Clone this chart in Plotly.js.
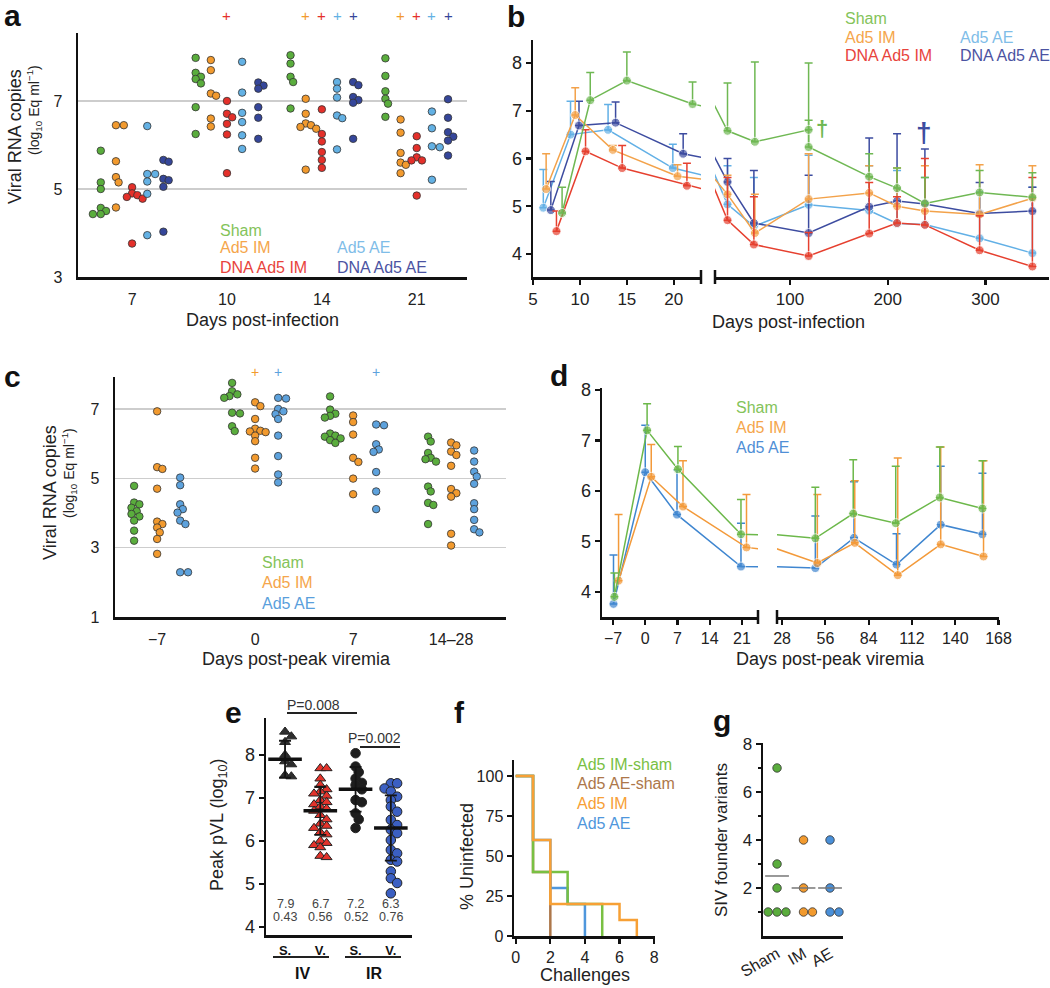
<!DOCTYPE html>
<html><head><meta charset="utf-8">
<script src="https://cdn.plot.ly/plotly-3.0.1.min.js"></script>
<style>html,body{margin:0;padding:0;background:#fff;}#chart{width:1050px;height:988px;}</style>
</head><body><div id="chart"></div>
<script>
// ================= DATA =================
// Panel a: viral RNA (log10) by day post-infection, five groups
const daysA = ['7','10','14','21'];
const groupNamesA = ['Sham','Ad5 IM','DNA Ad5 IM','Ad5 AE','DNA Ad5 AE'];
const a_sham  = [[5.87,5.15,5.0,4.57,4.5,4.43,4.43],[7.98,7.64,7.55,7.5,7.4,6.86,6.25],[8.61,8.04,7.85,7.55,7.43,6.83],[7.97,7.57,7.22,7.05,6.94,6.64]];
const a_ad5im = [[6.45,6.45,5.63,5.27,5.15,4.58],[7.93,7.7,7.17,7.12,6.6,6.42],[7.05,6.71,6.49,6.45,6.41,6.37,5.44],[6.58,6.28,5.82,5.6,5.55,5.36]];
const a_dnaim = [[5.04,4.9,4.86,4.82,4.78,3.76],[7.0,6.71,6.63,6.48,6.24,5.36],[6.81,6.25,6.08,5.84,5.66,5.48],[6.2,5.93,5.72,5.65,5.65,4.85]];
const a_ad5ae = [[6.43,5.34,5.34,5.17,4.89,3.95],[7.89,7.19,6.73,6.52,6.22,5.91],[7.43,7.28,7.08,6.67,6.61,5.9],[6.76,6.38,5.97,5.95,5.21]];
const a_dnaae = [[5.66,5.62,5.23,5.2,5.05,4.03],[7.42,7.35,7.28,6.86,6.62,6.14],[7.43,7.36,7.09,7.02,6.96,6.14],[7.04,6.62,6.29,6.19,6.1,5.76]];
// significance "+" marks per group per day
const a_plus_sham  = [0,0,0,0];
const a_plus_ad5im = [0,0,1,1];
const a_plus_dnaim = [0,1,1,1];
const a_plus_ad5ae = [0,0,1,1];
const a_plus_dnaae = [0,0,1,1];

// Panel b: mean viral load over time (day, mean, upper error)
const b_sham_day  = [8.1,11.1,15,22,36,64,119,119,181,209.5,238,294,348];
const b_sham_val  = [4.86,7.22,7.63,7.14,6.58,6.35,6.6,6.24,5.62,5.38,5.06,5.29,5.19];
const b_sham_up   = [5.4,7.8,8.23,7.6,7.58,8.02,8.0,6.8,6.1,5.8,5.6,5.75,5.7];
const b_ad5im_day = [6.4,9.5,13.5,20.4,36,64,119,181,209.5,238,294,348];
const b_ad5im_val = [5.36,6.91,6.18,5.63,5.25,4.44,5.15,5.28,5.0,4.9,4.83,5.17];
const b_ad5im_up  = [6.1,7.48,6.27,5.87,5.65,5.25,6.1,5.85,5.8,5.85,5.87,5.85];
const b_dnaim_day = [7.5,10.6,14.5,21.4,36,63,119,181,209.5,238,294,348];
const b_dnaim_val = [4.48,6.15,5.8,5.43,4.71,4.2,3.96,4.43,4.65,4.61,4.08,3.74];
const b_dnaim_up  = [4.9,6.6,6.27,5.9,5.6,5.2,4.45,5.5,5.2,6.0,4.8,5.6];
const b_ad5ae_day = [6.1,9.0,13,19.9,36,63,119,181,209.5,238,294,348];
const b_ad5ae_val = [4.97,6.5,6.6,5.8,5.04,4.58,5.03,4.91,4.64,4.62,4.33,4.02];
const b_ad5ae_up  = [5.77,7.2,7.13,6.3,5.85,5.6,6.07,5.85,5.75,5.6,5.3,5.4];
const b_dnaae_day = [6.9,9.9,13.8,21,36,63,119,181,209.5,238,294,348];
const b_dnaae_val = [4.92,6.69,6.75,6.1,5.51,4.65,4.44,4.99,5.11,5.05,4.85,4.9];
const b_dnaae_up  = [5.52,7.2,7.18,6.52,6.0,5.75,5.65,6.43,6.52,6.2,5.5,5.4];

// Panel c: viral RNA by days post-peak viremia
const daysC = ['\u22127','0','7','14\u201328'];
const groupNamesC = ['Sham','Ad5 IM','Ad5 AE'];
const c_sham  = [[4.78,4.3,4.25,4.15,4.05,3.97,3.9,3.78,3.49,3.2],[8.03,7.75,7.51,7.42,7.37,7.32,6.89,6.87,6.5,6.36],[7.36,6.98,6.86,6.8,6.75,6.29,6.23,6.2,6.15,6.1,6.02],[6.2,6.06,5.73,5.59,5.55,5.48,4.76,4.62,4.29,4.23,3.68]];
const c_ad5im = [[6.93,5.32,5.27,4.7,3.75,3.68,3.58,3.44,3.25,2.82],[7.19,7.08,6.71,6.43,6.37,6.35,6.33,6.23,6.07,5.59,5.28],[6.81,6.62,6.26,5.59,5.47,4.99,4.54],[6.03,5.95,5.77,5.67,5.36,4.69,4.57,4.47,3.4,3.06]];
const c_ad5ae = [[5.02,4.8,4.25,4.11,4.01,3.78,3.68,2.29,2.29],[7.32,7.3,7.0,6.93,6.85,6.71,6.23,5.64,5.11,4.88],[6.55,6.53,5.98,5.83,5.76,5.18,4.62,4.11],[5.8,5.48,5.19,5.05,4.84,4.28,4.11,3.8,3.53,3.44]];
const c_plus_sham  = [0,0,0,0];
const c_plus_ad5im = [0,1,0,0];
const c_plus_ad5ae = [0,1,1,0];

// Panel d: mean viral load, days post-peak viremia
const d_sham_day = [-6.7,0.4,7.1,20.8,49.5,74,101.5,130,157.6];
const d_sham_val = [3.9,7.2,6.43,5.14,5.06,5.55,5.36,5.87,5.65];
const d_sham_up  = [4.37,7.73,6.88,5.83,6.07,6.62,6.49,6.87,6.6];
const d_im_day   = [-5.8,1.3,8.2,22,50.8,75,102.8,130.6,158.3];
const d_im_val   = [4.22,6.28,5.69,4.88,4.57,4.97,4.33,4.94,4.7];
const d_im_up    = [5.53,6.92,6.6,5.93,5.93,6.2,6.65,6.87,6.6];
const d_ae_day   = [-6.9,0,6.9,20.8,49.5,74.5,102,130.6,157.6];
const d_ae_val   = [3.76,6.37,5.53,4.5,4.47,5.07,4.54,5.33,5.14];
const d_ae_up    = [4.73,7.3,6.42,5.36,5.5,6.18,5.15,6.49,6.35];

// Panel e: peak pVL
const e_cats = ['S.','V.','S.','V.'];
const e_iv_sham = [8.54,8.43,8.3,8.0,7.85,7.78,7.53,7.5];
const e_iv_vacc = [7.69,7.69,7.45,7.3,7.2,7.15,7.1,7.05,6.95,6.9,6.85,6.8,6.75,6.7,6.6,6.5,6.4,6.35,6.3,6.2,6.15,6.0,5.95,5.9,5.85,5.65,5.62];
const e_ir_sham = [8.04,7.73,7.6,7.45,7.35,7.3,7.2,6.95,6.9,6.64,6.5,6.3];
const e_ir_vacc = [7.34,7.34,7.22,7.15,7.03,6.95,6.8,6.68,6.49,6.37,6.26,6.18,6.02,5.79,5.71,5.56,5.52,5.29,5.13,5.02,4.78];
const e_means = [7.9,6.7,7.2,6.3];
const e_sd    = [0.43,0.56,0.52,0.76];

// Panel f: % uninfected vs challenges
const f_names = ['Ad5 IM-sham','Ad5 AE-sham','Ad5 IM','Ad5 AE'];
const f_imsham_x = [0,1,3,5],     f_imsham_y = [100,40,20,0];
const f_aesham_x = [0,1,2],       f_aesham_y = [100,40,0];
const f_im_x     = [0,1,2,6,7],   f_im_y     = [100,60,20,10,0];
const f_ae_x     = [0,1,2,3,4],   f_ae_y     = [100,60,30,20,0];

// Panel g: SIV founder variants
const g_cats = ['Sham','IM','AE'];
const g_sham = [7,3,2,1,1,1];
const g_im   = [4,2,1,1];
const g_ae   = [4,2,1,1];
const g_means = [2.5,2,2];

// ================= HELPERS =================
const W = 1050, H = 988;
const FONT = 'Arial, "Liberation Sans", Helvetica, sans-serif';
const fx = p => p / W, fy = p => 1 - p / H;
const domX = (a, b) => [fx(a), fx(b)];
const domY = (top, bot) => [fy(bot), fy(top)];
const fnt = (size, color, weight) => ({family: FONT, size: size, color: color || '#222', weight: weight || 400});
function ann(text, x, y, size, color, o) {
  return Object.assign({text: text, x: fx(x), y: fy(y), xref: 'paper', yref: 'paper', showarrow: false,
    xanchor: 'center', yanchor: 'middle', font: fnt(size, color)}, o || {});
}
// simple beeswarm: returns horizontal pixel offsets
function swarm(vals, d, yppu, tight) {
  const order = vals.map((v, i) => i).sort((a, b) => vals[b] - vals[a]);
  const placed = [], out = new Array(vals.length).fill(0);
  const cands = [0];
  for (let k = 1; k < 16; k++) { cands.push(k * d * 0.35); cands.push(-k * d * 0.35); }
  for (const i of order) {
    const y = vals[i] * yppu;
    let best = 0;
    for (const c of cands) {
      if (placed.every(p => Math.hypot(p.x - c, p.y - y) >= d * (tight || 0.72))) { best = c; break; }
    }
    placed.push({x: best, y: y}); out[i] = best;
  }
  return out;
}
const baseAx = {showgrid: false, zeroline: false, showline: true, linecolor: '#111', linewidth: 2.5,
  ticks: '', tickfont: fnt(16, '#222'), fixedrange: true, tickmode: 'array'};
const ax = o => Object.assign({}, baseAx, o);

const traces = [], annotations = [], shapes = [];

// line+marker trace for one segment of a broken axis: all points feed the line,
// only points inside the segment show markers and error bars
function segTrace(dx, dv, du, lo, hi, xa, ya, color, msize) {
  const inSeg = dx.map(d => d >= lo && d <= hi);
  return {type: 'scatter', mode: 'lines+markers', x: dx, y: dv, xaxis: xa, yaxis: ya, hoverinfo: 'skip',
    line: {color: color, width: 1.5}, marker: {size: inSeg.map(b => b ? msize : 0), color: color},
    error_y: {type: 'data', symmetric: false, array: du.map((u, i) => inSeg[i] ? u - dv[i] : NaN),
      arrayminus: inSeg.map(b => b ? 0 : NaN), color: color, thickness: 1.5, width: 4}};
}

// ================= PANEL A =================
const colA = ['#5aad3d', '#f29a2e', '#e4302a', '#63b1e4', '#35469a'];
const legA = ['#84c35a', '#f5a64b', '#e8433c', '#7fbde8', '#4b53a2'];
const offA = [-0.33, -0.17, 0, 0.16, 0.33];
const groupsA = [a_sham, a_ad5im, a_dnaim, a_ad5ae, a_dnaae];
const plusA = [a_plus_sham, a_plus_ad5im, a_plus_dnaim, a_plus_ad5ae, a_plus_dnaae];
const xppuA = 94.9, yppuA = 44;
groupsA.forEach((g, gi) => {
  const xs = [], ys = [];
  g.forEach((vals, ci) => {
    const off = swarm(vals, 7.5, yppuA);
    vals.forEach((v, k) => { xs.push(ci + offA[gi] + off[k] / xppuA); ys.push(v); });
    if (plusA[gi][ci]) annotations.push({text: '+', x: ci + offA[gi], xref: 'x', y: fy(15), yref: 'paper',
      showarrow: false, font: fnt(15, colA[gi]), xanchor: 'center', yanchor: 'middle'});
  });
  traces.push({type: 'scatter', mode: 'markers', x: xs, y: ys, xaxis: 'x', yaxis: 'y', name: groupNamesA[gi],
    cliponaxis: false, hoverinfo: 'skip',
    marker: {size: 7.5, color: colA[gi], line: {color: '#333', width: 0.8}}});
});

// ================= PANEL B =================
const colB = ['#6fb853', '#f3a24a', '#e6402f', '#62b0e6', '#3d4ca0'];
const seriesB = [
  [b_sham_day, b_sham_val, b_sham_up], [b_ad5im_day, b_ad5im_val, b_ad5im_up],
  [b_dnaim_day, b_dnaim_val, b_dnaim_up], [b_ad5ae_day, b_ad5ae_val, b_ad5ae_up],
  [b_dnaae_day, b_dnaae_val, b_dnaae_up]];
const orderB = [3, 4, 1, 2, 0];
orderB.forEach(si => {
  const [dx, dv, du] = seriesB[si];
  traces.push(segTrace(dx, dv, du, 5, 22.9, 'x2', 'y2', colB[si], 9));
  traces.push(segTrace(dx, dv, du, 23.2, 365, 'x3', 'y2', colB[si], 9));
});

// ================= PANEL C =================
const colC = ['#5aad3d', '#f29a2e', '#5da2dd'];
const legC = ['#84c35a', '#f5a64b', '#5a9fdc'];
const offC = [-0.235, 0, 0.235];
const groupsC = [c_sham, c_ad5im, c_ad5ae];
const plusC = [c_plus_sham, c_plus_ad5im, c_plus_ad5ae];
const xppuC = 98, yppuC = 34.7;
groupsC.forEach((g, gi) => {
  const xs = [], ys = [];
  g.forEach((vals, ci) => {
    const off = swarm(vals, 7.5, yppuC);
    vals.forEach((v, k) => { xs.push(ci + offC[gi] + off[k] / xppuC); ys.push(v); });
    if (plusC[gi][ci]) annotations.push({text: '+', x: ci + offC[gi], xref: 'x4', y: fy(372), yref: 'paper',
      showarrow: false, font: fnt(14, colC[gi]), xanchor: 'center', yanchor: 'middle'});
  });
  traces.push({type: 'scatter', mode: 'markers', x: xs, y: ys, xaxis: 'x4', yaxis: 'y4', name: groupNamesC[gi],
    cliponaxis: false, hoverinfo: 'skip',
    marker: {size: 7.5, color: colC[gi], line: {color: '#333', width: 0.8}}});
});

// ================= PANEL D =================
const colD = ['#6cb84a', '#f39a3a', '#3f86d0'];
const seriesD = [[d_ae_day, d_ae_val, d_ae_up, 2], [d_im_day, d_im_val, d_im_up, 1], [d_sham_day, d_sham_val, d_sham_up, 0]];
seriesD.forEach(([dx, dv, du, ci]) => {
  traces.push(segTrace(dx, dv, du, -9.4, 24.5, 'x5', 'y5', colD[ci], 9));
  traces.push(segTrace(dx, dv, du, 24.7, 168.3, 'x6', 'y5', colD[ci], 9));
});

// ================= PANEL E =================
const groupsE = [e_iv_sham, e_iv_vacc, e_ir_sham, e_ir_vacc];
const colE = ['#2d2d2d', '#e2332b', '#1e1e1e', '#3b5fc2'];
const symE = ['triangle-up', 'triangle-up', 'circle', 'circle'];
groupsE.forEach((vals, gi) => {
  const off = swarm(vals, 9, 43, 0.7);
  traces.push({type: 'scatter', mode: 'markers', x: vals.map((v, k) => gi + off[k] / 35.3), y: vals,
    xaxis: 'x7', yaxis: 'y7', cliponaxis: false, hoverinfo: 'skip',
    marker: {size: 9.5, symbol: symE[gi], color: colE[gi], line: {color: '#222', width: 1}}});
});
traces.push({type: 'scatter', mode: 'markers', x: [0, 1, 2, 3], y: e_means, xaxis: 'x7', yaxis: 'y7',
  hoverinfo: 'skip', marker: {symbol: 'line-ew', size: 24, color: '#111', line: {color: '#111', width: 3.5}},
  error_y: {type: 'data', array: e_sd, color: '#151515', thickness: 1.8, width: 6}});
e_means.forEach((m, i) => {
  annotations.push({text: m.toFixed(1), x: i, xref: 'x7', y: fy(913), yref: 'paper', showarrow: false, font: fnt(12.5, '#444')});
  annotations.push({text: e_sd[i].toFixed(2), x: i, xref: 'x7', y: fy(926), yref: 'paper', showarrow: false, font: fnt(12.5, '#444')});
});

// ================= PANEL F =================
const colF = ['#79c043', '#ad774a', '#f7a035', '#4f97dc'];
const seriesF = [[f_aesham_x, f_aesham_y, 1], [f_ae_x, f_ae_y, 3], [f_imsham_x, f_imsham_y, 0], [f_im_x, f_im_y, 2]];
seriesF.forEach(([xs, ys, ci]) => {
  traces.push({type: 'scatter', mode: 'lines', x: xs, y: ys, xaxis: 'x8', yaxis: 'y8', name: f_names[ci],
    hoverinfo: 'skip', line: {shape: 'hv', color: colF[ci], width: 2.5}});
});

// ================= PANEL G =================
const groupsG = [g_sham, g_im, g_ae];
const colG = ['#5aad3d', '#f29a2e', '#4a90d9'];
groupsG.forEach((vals, gi) => {
  const off = swarm(vals, 8.5, 24, 0.85);
  traces.push({type: 'scatter', mode: 'markers', x: vals.map((v, k) => gi + off[k] / 26.5), y: vals,
    xaxis: 'x9', yaxis: 'y9', cliponaxis: false, hoverinfo: 'skip',
    marker: {size: 8.5, color: colG[gi], line: {color: '#333', width: 0.8}}});
});
traces.push({type: 'scatter', mode: 'markers', x: [0, 1, 2], y: g_means, xaxis: 'x9', yaxis: 'y9', hoverinfo: 'skip',
  cliponaxis: false, marker: {symbol: 'line-ew', size: 17, color: '#777', line: {color: '#777', width: 1.5}}});

// ================= ANNOTATIONS =================
const letter = (t, x, y) => ann(t, x, y, 30, '#111', {xanchor: 'left', font: fnt(30, '#111', 700)});
annotations.push(letter('a', 2, 15), letter('b', 505, 16), letter('c', 2, 376), letter('d', 548, 375),
  letter('e', 223, 712), letter('f', 452, 712), letter('g', 711, 720));

// panel a
annotations.push(ann('Viral RNA copies', 15, 137, 18, '#222', {textangle: -90}));
annotations.push(ann('(log<sub>10</sub> Eq ml<sup>\u22121</sup>)', 34, 110, 14, '#222', {textangle: -90}));
annotations.push(ann('Days post-infection', 262, 320, 18, '#222'));
const legApos = [[218, 230], [218, 248], [218, 267], [335, 248], [335, 267]];
groupNamesA.forEach((n, i) => annotations.push(ann(n, legApos[i][0], legApos[i][1], 16, legA[i], {xanchor: 'left'})));
// panel b
annotations.push(ann('Days post-infection', 788, 322, 18, '#222'));
const legBpos = [[843, 18], [843, 37], [843, 56], [958, 37], [958, 56]];
groupNamesA.forEach((n, i) => annotations.push(ann(n, legBpos[i][0], legBpos[i][1], 16, legA[i], {xanchor: 'left'})));
annotations.push(ann('\u2020', 822, 128, 22, colB[0], {font: fnt(22, colB[0], 700)}));
annotations.push(ann('\u2020', 924, 133, 28, colB[4], {font: fnt(28, colB[4], 700)}));
// panel c
annotations.push(ann('Viral RNA copies', 50, 493, 18, '#222', {textangle: -90}));
annotations.push(ann('(log<sub>10</sub> Eq ml<sup>\u22121</sup>)', 69, 473, 14, '#222', {textangle: -90}));
annotations.push(ann('Days post-peak viremia', 296, 659, 18, '#222'));
groupNamesC.forEach((n, i) => annotations.push(ann(n, 260, 562 + i * 20.5, 16, legC[i], {xanchor: 'left'})));
// panel d
annotations.push(ann('Days post-peak viremia', 830, 659, 18, '#222'));
groupNamesC.forEach((n, i) => annotations.push(ann(n, 734, 407 + i * 20, 16, [legA[0], legA[1], '#4f8fd6'][i], {xanchor: 'left'})));
// panel e
annotations.push(ann('Peak pVL (log<sub>10</sub>)', 218, 825, 18, '#222', {textangle: -90}));
annotations.push(ann('P=0.008', 313, 705, 14, '#333'));
annotations.push(ann('P=0.002', 374, 738, 14, '#333'));
annotations.push(ann('IV', 302, 973, 16, '#111', {font: fnt(16, '#111', 700)}));
annotations.push(ann('IR', 374, 973, 16, '#111', {font: fnt(16, '#111', 700)}));
// panel f
annotations.push(ann('% Uninfected', 467, 857, 18, '#222', {textangle: -90}));
annotations.push(ann('Challenges', 585, 975, 18, '#222'));
f_names.forEach((n, i) => annotations.push(ann(n, 575, 764 + i * 19.8, 16, colF[i], {xanchor: 'left'})));
// panel g
annotations.push(ann('SIV founder variants', 721, 840, 17, '#222', {textangle: -90}));

// ================= SHAPES =================
const seg = (x0, y0, x1, y1, w, c) => ({type: 'line', xref: 'paper', yref: 'paper', x0: fx(x0), y0: fy(y0), x1: fx(x1), y1: fy(y1),
  line: {color: c || '#111', width: w || 2.5}});
shapes.push(seg(701, 270, 701, 284), seg(715, 270, 715, 284));
shapes.push(seg(758, 610, 758, 624), seg(777, 610, 777, 624));
shapes.push(seg(287, 713, 357, 713, 2, '#222'), seg(360, 747, 400, 747, 2, '#222'));
shapes.push(seg(273, 957, 329, 957, 2, '#222'), seg(345, 957, 401, 957, 2, '#222'));

// ================= LAYOUT =================
const tk = (sz) => ({ticks: 'outside', ticklen: 5, tickwidth: 2.2, tickcolor: '#111', tickfont: fnt(sz || 18, '#222')});
const layout = {
  width: W, height: H, margin: {l: 0, r: 0, t: 0, b: 0}, showlegend: false,
  paper_bgcolor: '#fff', plot_bgcolor: 'rgba(0,0,0,0)', font: {family: FONT},
  xaxis: ax({domain: domX(78, 467), range: [-0.57, 3.53], tickvals: [0, 1, 2, 3], ticktext: daysA, anchor: 'y', ticklabelstandoff: 6}),
  yaxis: ax({domain: domY(33, 277), range: [3, 8.545], tickvals: [3, 5, 7], anchor: 'x', showgrid: true, gridcolor: '#cdcdcd', gridwidth: 1.5, ticklabelstandoff: 10}),
  xaxis2: ax(Object.assign({domain: domX(533, 701), range: [5, 22.9], tickvals: [5, 10, 15, 20], anchor: 'y2'}, tk(17))),
  xaxis3: ax(Object.assign({domain: domX(715, 1049), range: [23.2, 365], tickvals: [100, 200, 300], anchor: 'y2'}, tk(17))),
  yaxis2: ax(Object.assign({domain: domY(40, 277), range: [3.52, 8.48], tickvals: [4, 5, 6, 7, 8], anchor: 'x2'}, tk(18))),
  xaxis4: ax({domain: domX(115, 506), range: [-0.43, 3.56], tickvals: [0, 1, 2, 3], ticktext: daysC, anchor: 'y4', ticklabelstandoff: 6}),
  yaxis4: ax({domain: domY(377, 617), range: [1, 7.92], tickvals: [1, 3, 5, 7], anchor: 'x4', showgrid: true, gridcolor: '#cdcdcd', gridwidth: 1.5, ticklabelstandoff: 10}),
  xaxis5: ax(Object.assign({domain: domX(602, 758), range: [-9.4, 24.5], tickvals: [-7, 0, 7, 14, 21], ticktext: ['\u22127', '0', '7', '14', '21'], anchor: 'y5'}, tk(16))),
  xaxis6: ax(Object.assign({domain: domX(777, 999), range: [24.7, 168.3], tickvals: [28, 56, 84, 112, 140, 168], anchor: 'y5'}, tk(16))),
  yaxis5: ax(Object.assign({domain: domY(388, 617), range: [3.5, 8.04], tickvals: [4, 5, 6, 7, 8], anchor: 'x5'}, tk(18))),
  xaxis7: ax({domain: domX(266, 412), range: [-0.54, 3.6], tickvals: [0, 1, 2, 3], ticktext: e_cats, anchor: 'y7', tickfont: fnt(13, '#111', 700), ticklabelstandoff: 2}),
  yaxis7: ax(Object.assign({domain: domY(718, 935), range: [3.81, 8.86], tickvals: [4, 5, 6, 7, 8], anchor: 'x7'}, tk(18))),
  xaxis8: ax(Object.assign({domain: domX(514, 655), range: [-0.1, 8.05], tickvals: [0, 2, 4, 6, 8], anchor: 'y8'}, tk(16))),
  yaxis8: ax(Object.assign({domain: domY(760, 936), range: [0, 110], tickvals: [0, 25, 50, 75, 100], anchor: 'x8'}, tk(16))),
  xaxis9: ax({domain: domX(763, 843), range: [-0.53, 2.49], tickvals: [0, 1, 2], ticktext: g_cats, anchor: 'y9', tickangle: -30, tickfont: fnt(16, '#222')}),
  yaxis9: ax(Object.assign({domain: domY(743, 936), range: [0, 8.04], tickvals: [2, 4, 6, 8], anchor: 'x9',
    minor: {tickvals: [1, 3, 5, 7], ticks: 'outside', ticklen: 3, tickwidth: 1.5, tickcolor: '#111'}}, tk(17))),
  annotations: annotations, shapes: shapes
};
Plotly.newPlot('chart', traces, layout, {staticPlot: true, displayModeBar: false});
</script></body></html>
